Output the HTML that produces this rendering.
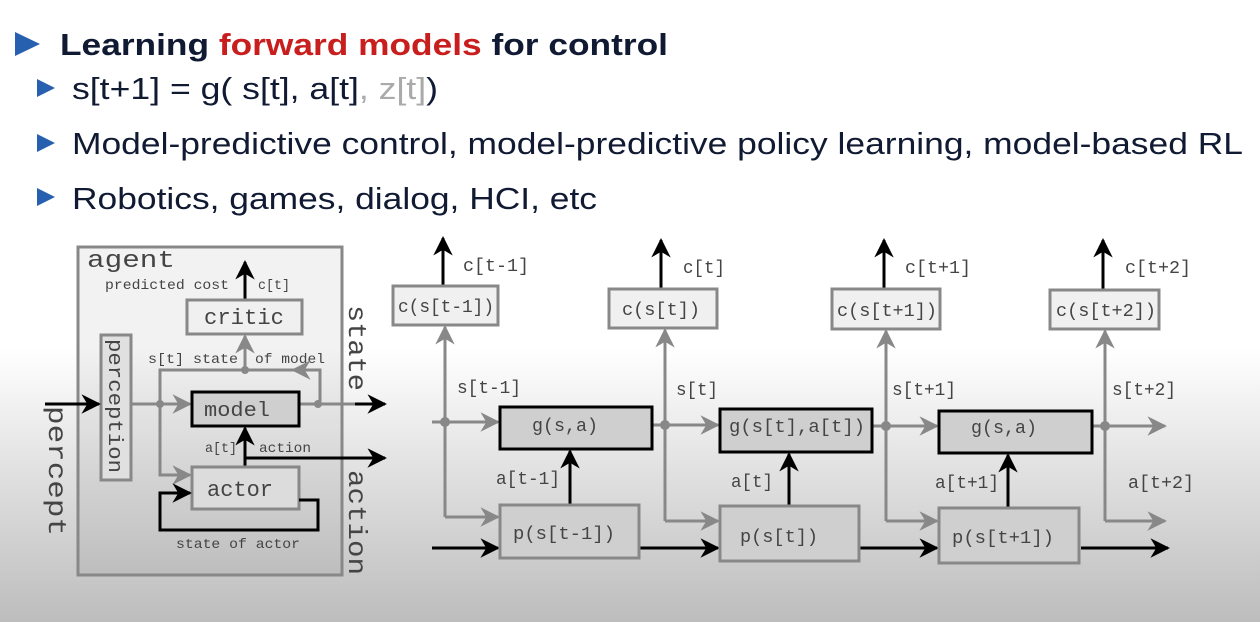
<!DOCTYPE html>
<html><head><meta charset="utf-8"><style>
html,body{margin:0;padding:0;}
body{width:1260px;height:622px;overflow:hidden;}
svg{display:block;}
.m{font-family:"Liberation Mono",monospace;fill:#444;}
.t{font-family:"Liberation Sans",sans-serif;fill:#111a33;}
</style></head><body>
<svg width="1260" height="622" viewBox="0 0 1260 622" xmlns="http://www.w3.org/2000/svg">
<defs>
<linearGradient id="bg" x1="0" y1="0" x2="0" y2="1">
<stop offset="0" stop-color="#ffffff"/>
<stop offset="0.56" stop-color="#ffffff"/>
<stop offset="0.75" stop-color="#e2e2e2"/>
<stop offset="1" stop-color="#bdbdbd"/>
</linearGradient>
<marker id="ab" viewBox="0 0 10 10" refX="9" refY="5" markerWidth="6.5" markerHeight="6.5" orient="auto" markerUnits="strokeWidth"><path d="M0,0 L10,5 L0,10 L3,5 z" fill="#000"/></marker>
<marker id="ag" viewBox="0 0 10 10" refX="9" refY="5" markerWidth="6.5" markerHeight="6.5" orient="auto" markerUnits="strokeWidth"><path d="M0,0 L10,5 L0,10 L3,5 z" fill="#888"/></marker>
</defs>
<rect width="1260" height="622" fill="url(#bg)"/>

<!-- text -->
<polygon points="15,32 40,44 15,56" fill="#2860b0"/>
<text x="60" y="55" class="t" font-size="31" font-weight="bold" textLength="608" lengthAdjust="spacingAndGlyphs">Learning <tspan fill="#c81e1e">forward models</tspan> for control</text>
<polygon points="37,79 55,88 37,97" fill="#2860b0"/>
<text x="72" y="99" class="t" font-size="31" textLength="366" lengthAdjust="spacingAndGlyphs">s[t+1] = g( s[t], a[t]<tspan fill="#aaa">, z[t]</tspan>)</text>
<polygon points="37,134 55,143 37,152" fill="#2860b0"/>
<text x="72" y="154" class="t" font-size="31" textLength="1171" lengthAdjust="spacingAndGlyphs">Model-predictive control, model-predictive policy learning, model-based RL</text>
<polygon points="37,188 55,197 37,206" fill="#2860b0"/>
<text x="72" y="209" class="t" font-size="31" textLength="525" lengthAdjust="spacingAndGlyphs">Robotics, games, dialog, HCI, etc</text>

<!-- LEFT agent diagram -->
<rect x="78" y="247" width="264" height="328" fill="rgba(0,0,0,0.05)" stroke="#888" stroke-width="3"/>
<text x="87" y="267" class="m" font-size="24" textLength="88" lengthAdjust="spacingAndGlyphs">agent</text>
<text x="105" y="289" class="m" font-size="14" textLength="124" lengthAdjust="spacingAndGlyphs">predicted cost</text>
<text x="258" y="289" class="m" font-size="14" textLength="32" lengthAdjust="spacingAndGlyphs">c[t]</text>
<line x1="245" y1="300" x2="245" y2="262" stroke="#000" stroke-width="3" marker-end="url(#ab)"/>
<rect x="187" y="300" width="115" height="34" fill="#f0f0f0" stroke="#888" stroke-width="3"/>
<text x="204" y="324" class="m" font-size="22" textLength="80" lengthAdjust="spacingAndGlyphs">critic</text>
<rect x="101" y="335" width="30" height="145" fill="#e0e0e0" stroke="#888" stroke-width="3"/>
<text class="m" font-size="20" transform="translate(109,339) rotate(90)" textLength="134" lengthAdjust="spacingAndGlyphs">perception</text>
<text x="148" y="363" class="m" font-size="14" textLength="90" lengthAdjust="spacingAndGlyphs">s[t] state</text>
<text x="255" y="363" class="m" font-size="14" textLength="70" lengthAdjust="spacingAndGlyphs">of model</text>
<polyline points="318,404 320,404 320,370 160,370 160,475 190,475" fill="none" stroke="#888" stroke-width="3" marker-end="url(#ag)"/>
<line x1="310" y1="370" x2="293" y2="370" stroke="#888" stroke-width="3" marker-end="url(#ag)"/>
<line x1="245" y1="370" x2="245" y2="336" stroke="#888" stroke-width="3" marker-end="url(#ag)"/>
<line x1="131" y1="404" x2="190" y2="404" stroke="#888" stroke-width="3" marker-end="url(#ag)"/>
<line x1="299" y1="404" x2="365" y2="404" stroke="#888" stroke-width="3"/>
<line x1="355" y1="404" x2="385" y2="404" stroke="#000" stroke-width="3" marker-end="url(#ab)"/>
<circle cx="160" cy="404" r="4" fill="#888"/><circle cx="318" cy="404" r="4" fill="#888"/><circle cx="245" cy="370" r="4" fill="#888"/>
<rect x="192" y="392" width="107" height="34" fill="#cfcfcf" stroke="#000" stroke-width="3"/>
<text x="204" y="416" class="m" font-size="20" textLength="66" lengthAdjust="spacingAndGlyphs">model</text>
<text x="205" y="452" class="m" font-size="14" textLength="32" lengthAdjust="spacingAndGlyphs">a[t]</text>
<text x="259" y="452" class="m" font-size="14" textLength="52" lengthAdjust="spacingAndGlyphs">action</text>
<line x1="245" y1="467" x2="245" y2="428" stroke="#000" stroke-width="3" marker-end="url(#ab)"/>
<line x1="245" y1="458" x2="385" y2="458" stroke="#000" stroke-width="3" marker-end="url(#ab)"/>
<rect x="192" y="467" width="107" height="42" fill="#dcdcdc" stroke="#888" stroke-width="3"/>
<text x="207" y="496" class="m" font-size="22" textLength="66" lengthAdjust="spacingAndGlyphs">actor</text>
<polyline points="299,500 318,500 318,530 160,530 160,493 190,493" fill="none" stroke="#000" stroke-width="3" marker-end="url(#ab)"/>
<text x="176" y="548" class="m" font-size="14" textLength="124" lengthAdjust="spacingAndGlyphs">state of actor</text>
<line x1="45" y1="404" x2="99" y2="404" stroke="#000" stroke-width="3" marker-end="url(#ab)"/>
<text class="m" font-size="26" transform="translate(49,406) rotate(90)" textLength="130" lengthAdjust="spacingAndGlyphs">percept</text>
<text class="m" font-size="26" transform="translate(349,305) rotate(90)" textLength="86" lengthAdjust="spacingAndGlyphs">state</text>
<text class="m" font-size="26" transform="translate(349,470) rotate(90)" textLength="105" lengthAdjust="spacingAndGlyphs">action</text>

<!-- RIGHT unrolled diagram -->
<g stroke-width="3" fill="none">
<line x1="443" y1="286" x2="443" y2="238" stroke="#000" marker-end="url(#ab)"/>
<line x1="445" y1="517" x2="445" y2="327" stroke="#888" marker-end="url(#ag)"/>
<line x1="432" y1="422" x2="498" y2="422" stroke="#888" marker-end="url(#ag)"/>
<polyline points="445,517 498,517" stroke="#888" marker-end="url(#ag)"/>
<line x1="570" y1="505" x2="570" y2="451" stroke="#000" marker-end="url(#ab)"/>
<line x1="432" y1="548" x2="498" y2="548" stroke="#000" marker-end="url(#ab)"/>
<line x1="661" y1="289" x2="661" y2="240" stroke="#000" marker-end="url(#ab)"/>
<line x1="665" y1="521" x2="665" y2="330" stroke="#888" marker-end="url(#ag)"/>
<line x1="652" y1="425" x2="718" y2="425" stroke="#888" marker-end="url(#ag)"/>
<line x1="665" y1="521" x2="718" y2="521" stroke="#888" marker-end="url(#ag)"/>
<line x1="789" y1="507" x2="789" y2="454" stroke="#000" marker-end="url(#ab)"/>
<line x1="639" y1="548" x2="718" y2="548" stroke="#000" marker-end="url(#ab)"/>
<line x1="884" y1="289" x2="884" y2="240" stroke="#000" marker-end="url(#ab)"/>
<line x1="886" y1="521" x2="886" y2="331" stroke="#888" marker-end="url(#ag)"/>
<line x1="872" y1="426" x2="937" y2="426" stroke="#888" marker-end="url(#ag)"/>
<line x1="886" y1="521" x2="937" y2="521" stroke="#888" marker-end="url(#ag)"/>
<line x1="1008" y1="508" x2="1008" y2="455" stroke="#000" marker-end="url(#ab)"/>
<line x1="859" y1="548" x2="937" y2="548" stroke="#000" marker-end="url(#ab)"/>
<line x1="1103" y1="290" x2="1103" y2="240" stroke="#000" marker-end="url(#ab)"/>
<line x1="1105" y1="521" x2="1105" y2="331" stroke="#888" marker-end="url(#ag)"/>
<line x1="1092" y1="426" x2="1165" y2="426" stroke="#888" marker-end="url(#ag)"/>
<line x1="1105" y1="521" x2="1165" y2="521" stroke="#888" marker-end="url(#ag)"/>
<line x1="1081" y1="548" x2="1168" y2="548" stroke="#000" marker-end="url(#ab)"/>
</g>
<circle cx="445" cy="422" r="5" fill="#888"/>
<circle cx="665" cy="425" r="5" fill="#888"/>
<circle cx="886" cy="426" r="5" fill="#888"/>
<circle cx="1105" cy="426" r="5" fill="#888"/>

<rect x="393" y="286" width="105" height="39" fill="#f0f0f0" stroke="#888" stroke-width="3"/>
<text x="398" y="312" class="m" font-size="18" textLength="96" lengthAdjust="spacingAndGlyphs">c(s[t-1])</text>
<rect x="609" y="289" width="108" height="39" fill="#f0f0f0" stroke="#888" stroke-width="3"/>
<text x="622" y="315" class="m" font-size="18" textLength="78" lengthAdjust="spacingAndGlyphs">c(s[t])</text>
<rect x="832" y="289" width="108" height="40" fill="#f0f0f0" stroke="#888" stroke-width="3"/>
<text x="837" y="316" class="m" font-size="18" textLength="100" lengthAdjust="spacingAndGlyphs">c(s[t+1])</text>
<rect x="1050" y="290" width="109" height="39" fill="#f0f0f0" stroke="#888" stroke-width="3"/>
<text x="1056" y="316" class="m" font-size="18" textLength="100" lengthAdjust="spacingAndGlyphs">c(s[t+2])</text>
<text x="463" y="271" class="m" font-size="18" textLength="66" lengthAdjust="spacingAndGlyphs">c[t-1]</text>
<text x="683" y="273" class="m" font-size="18" textLength="42" lengthAdjust="spacingAndGlyphs">c[t]</text>
<text x="905" y="273" class="m" font-size="18" textLength="66" lengthAdjust="spacingAndGlyphs">c[t+1]</text>
<text x="1125" y="273" class="m" font-size="18" textLength="66" lengthAdjust="spacingAndGlyphs">c[t+2]</text>

<rect x="500" y="407" width="152" height="42" fill="#cfcfcf" stroke="#000" stroke-width="3"/>
<text x="532" y="431" class="m" font-size="18" textLength="66" lengthAdjust="spacingAndGlyphs">g(s,a)</text>
<rect x="720" y="409" width="152" height="43" fill="#cfcfcf" stroke="#000" stroke-width="3"/>
<text x="729" y="432" class="m" font-size="18" textLength="136" lengthAdjust="spacingAndGlyphs">g(s[t],a[t])</text>
<rect x="939" y="411" width="153" height="42" fill="#cfcfcf" stroke="#000" stroke-width="3"/>
<text x="971" y="433" class="m" font-size="18" textLength="66" lengthAdjust="spacingAndGlyphs">g(s,a)</text>

<rect x="500" y="505" width="139" height="53" fill="#cfcfcf" stroke="#888" stroke-width="3"/>
<text x="513" y="539" class="m" font-size="18" textLength="102" lengthAdjust="spacingAndGlyphs">p(s[t-1])</text>
<rect x="720" y="506" width="139" height="55" fill="#cfcfcf" stroke="#888" stroke-width="3"/>
<text x="740" y="542" class="m" font-size="18" textLength="78" lengthAdjust="spacingAndGlyphs">p(s[t])</text>
<rect x="939" y="508" width="140" height="55" fill="#cfcfcf" stroke="#888" stroke-width="3"/>
<text x="952" y="543" class="m" font-size="18" textLength="102" lengthAdjust="spacingAndGlyphs">p(s[t+1])</text>

<text x="457" y="393" class="m" font-size="18" textLength="64" lengthAdjust="spacingAndGlyphs">s[t-1]</text>
<text x="676" y="395" class="m" font-size="18" textLength="42" lengthAdjust="spacingAndGlyphs">s[t]</text>
<text x="892" y="395" class="m" font-size="18" textLength="64" lengthAdjust="spacingAndGlyphs">s[t+1]</text>
<text x="1112" y="395" class="m" font-size="18" textLength="64" lengthAdjust="spacingAndGlyphs">s[t+2]</text>
<text x="496" y="484" class="m" font-size="18" textLength="64" lengthAdjust="spacingAndGlyphs">a[t-1]</text>
<text x="731" y="487" class="m" font-size="18" textLength="42" lengthAdjust="spacingAndGlyphs">a[t]</text>
<text x="935" y="488" class="m" font-size="18" textLength="64" lengthAdjust="spacingAndGlyphs">a[t+1]</text>
<text x="1128" y="488" class="m" font-size="18" textLength="66" lengthAdjust="spacingAndGlyphs">a[t+2]</text>
</svg>
</body></html>
